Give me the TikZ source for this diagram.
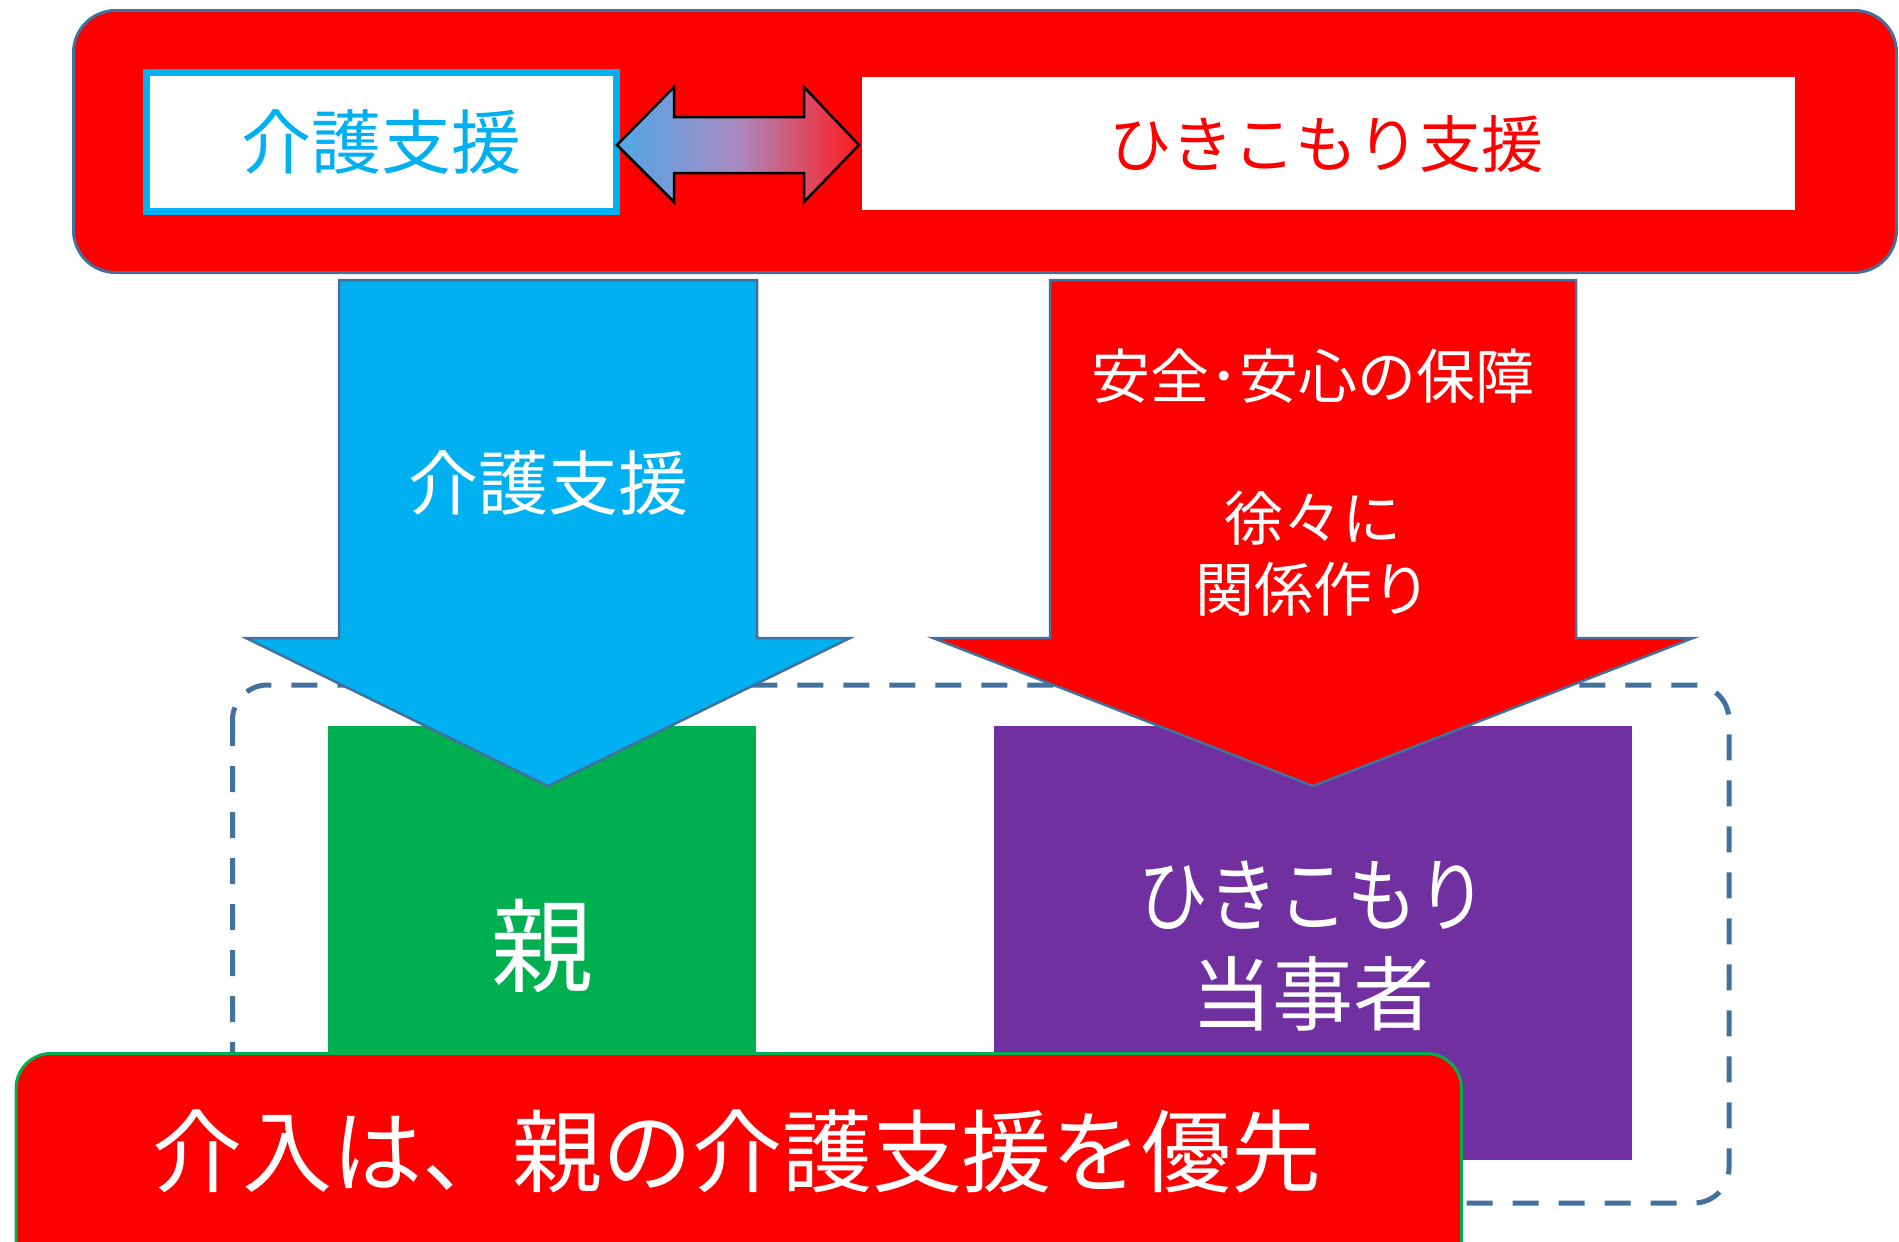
\documentclass[tikz,border=0pt]{standalone}
\usepackage{fontspec}
\usepackage{graphicx}
\setmainfont{Noto Sans CJK JP}
\definecolor{pptred}{HTML}{FF0000}
\definecolor{pptcyan}{HTML}{00B0F0}
\definecolor{pptgreen}{HTML}{00B050}
\definecolor{pptpurple}{HTML}{7030A0}
\definecolor{pptline}{HTML}{41719C}
\definecolor{garrowL}{HTML}{4FA8E8}
\definecolor{garrowM}{HTML}{AA8AC0}
\definecolor{garrowR}{HTML}{FF1A1A}
\tikzset{
  plain/.style={inner sep=0pt, outer sep=0pt},
  whitetext/.style={plain, text=white, align=center},
  bigarrow/.style={draw=pptline, line width=2.5pt, line join=miter},
}
\begin{document}
\begin{tikzpicture}[x=1pt,y=-1pt]
\useasboundingbox (0,0) rectangle (1899,1242);

% top panel
\node[plain, draw=pptline, line width=3pt, fill=pptred, rounded corners=42pt,
      minimum width=1823pt, minimum height=262pt] (panel) at (985,141.5) {};
\node[plain, draw=pptcyan, line width=7pt, fill=white,
      minimum width=470pt, minimum height=139pt, text=pptcyan,
      font=\fontsize{70}{84}\selectfont] (care) at (381.5,142) {介護支援};
\node[plain, fill=white, minimum width=933pt, minimum height=133pt] (hikibox) at (1328.5,143.5) {};
\node[plain, text=pptred, font=\fontsize{62}{75}\selectfont] (hiki) at (1326,144) {ひきこもり支援};

% double arrow between boxes
\path[draw=black, line width=2.5pt, line join=miter,
      left color=garrowL, right color=garrowR, middle color=garrowM]
  (617,145) -- (674,87) -- (674,117) -- (804,117) -- (804,87) -- (859,145)
  -- (804,202) -- (804,173) -- (674,173) -- (674,202) -- cycle;

% dashed frame
\draw[pptline, line width=5pt, dash pattern=on 26pt off 20pt, rounded corners=35pt]
  (232.5,685) rectangle (1729,1203);

% target boxes
\node[plain, fill=pptgreen, minimum width=428pt, minimum height=434pt] (parentbox) at (542,943) {};
\node[whitetext, font=\fontsize{102}{120}\selectfont] (parent) at (542,946) {親};
\node[plain, fill=pptpurple, minimum width=638pt, minimum height=434pt] (selfbox) at (1313,943) {};
\node[whitetext, font=\fontsize{81}{99}\selectfont] (self) at (1313,946)
  {\scalebox{0.86}[1]{ひきこもり}\\当事者};

% down arrows
\path[bigarrow, fill=pptcyan]
  (339,280) -- (757,280) -- (757,638) -- (850,638) -- (548,786) -- (246,638) -- (339,638) -- cycle;
\node[whitetext, font=\fontsize{70}{84}\selectfont] (caretext) at (548,483) {介護支援};

\path[bigarrow, fill=pptred]
  (1050,280) -- (1576,280) -- (1576,638) -- (1693,638) -- (1313,786) -- (933,638) -- (1050,638) -- cycle;
\node[whitetext, font=\fontsize{59}{71}\selectfont] (hikitext) at (1313,483)
  {安全･安心の保障\\[71pt]徐々に\\関係作り};

% bottom banner
\path[draw=pptgreen, line width=3pt, fill=pptred, rounded corners=35pt]
  (16,1300) -- (16,1053.5) -- (1461.5,1053.5) -- (1461.5,1300);
\node[whitetext, font=\fontsize{90}{108}\selectfont] (banner) at (737,1151) {介入は、親の介護支援を優先};
\end{tikzpicture}
\end{document}
